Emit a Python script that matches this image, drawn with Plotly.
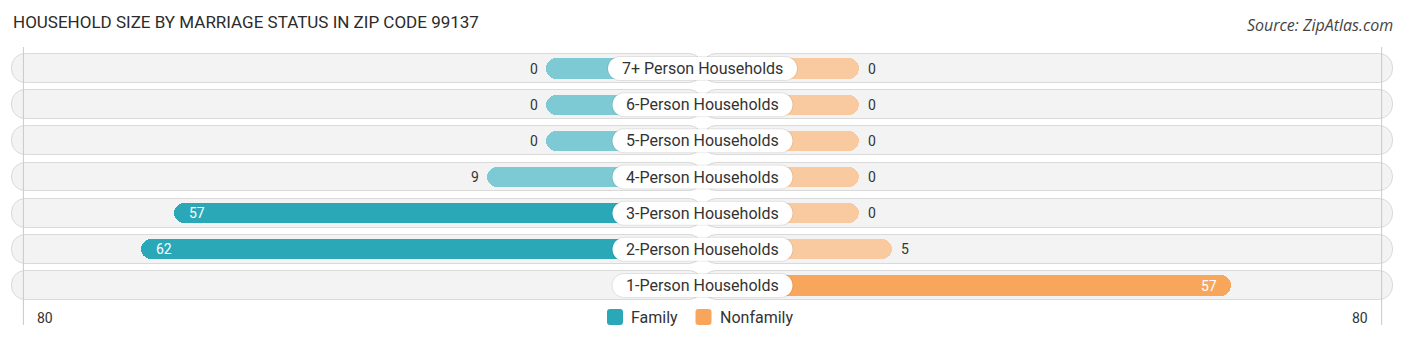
import plotly.graph_objects as go

# ---- data ----
categories = ["7+ Person Households", "6-Person Households", "5-Person Households",
              "4-Person Households", "3-Person Households", "2-Person Households",
              "1-Person Households"]
family = [0, 0, 0, 9, 57, 62, None]     # None: no family value shown for 1-person
nonfamily = [0, 0, 0, 0, 0, 5, 57]
axis_max_label = 80

# ---- layout constants ----
W, H = 1406, 341
PX_PER_UNIT = 6.53
CENTER_PX = 702.5
OFFSET = 24.0          # stub under the centre label (data units)
ROW0_PX = 68.5
ROW_PX = 36.17
BG_HALF = 105.7

FAM_STRONG, FAM_LIGHT = "#2aa8b8", "#7ecad4"
NON_STRONG, NON_LIGHT = "#f7a65b", "#f9ca9f"
TEXT = "#333333"
FONT = "Roboto"

x_lo = (0 - CENTER_PX) / PX_PER_UNIT
x_hi = (W - CENTER_PX) / PX_PER_UNIT
y_top = (0 - ROW0_PX) / ROW_PX
y_bot = (H - ROW0_PX) / ROW_PX

ys = list(range(len(categories)))

def strong(v):
    return v is not None and v >= 20

fig = go.Figure()

# background pills (two halves so both ends are rounded)
for sign in (-1, 1):
    fig.add_trace(go.Bar(
        y=ys, x=[sign * BG_HALF] * len(ys), base=0, orientation="h",
        width=0.80, marker=dict(color="#f3f3f3", line=dict(color="#dadada", width=1),
                                cornerradius=14),
        hoverinfo="skip", showlegend=False))

# data bars
fam_y = [y for y, v in zip(ys, family) if v is not None]
fam_v = [v for v in family if v is not None]
fig.add_trace(go.Bar(
    y=fam_y, x=[-(OFFSET + v) for v in fam_v], base=0, orientation="h", width=0.56,
    marker=dict(color=[FAM_STRONG if strong(v) else FAM_LIGHT for v in fam_v],
                cornerradius=10, line=dict(width=0)),
    name="Family", showlegend=False,
    customdata=fam_v, hovertemplate="%{customdata}<extra>Family</extra>"))
fig.add_trace(go.Bar(
    y=ys, x=[OFFSET + v for v in nonfamily], base=0, orientation="h", width=0.56,
    marker=dict(color=[NON_STRONG if strong(v) else NON_LIGHT for v in nonfamily],
                cornerradius=10, line=dict(width=0)),
    name="Nonfamily", showlegend=False,
    customdata=nonfamily, hovertemplate="%{customdata}<extra>Nonfamily</extra>"))


def pill_path(w, h):
    r = h / 2.0
    c = 0.5523 * r
    x0, x1 = -w / 2.0, w / 2.0
    y0, y1 = -h / 2.0, h / 2.0
    return (f"M{x0 + r},{y0} L{x1 - r},{y0} "
            f"C{x1 - r + c},{y0} {x1},{-c} {x1},0 "
            f"C{x1},{c} {x1 - r + c},{y1} {x1 - r},{y1} "
            f"L{x0 + r},{y1} "
            f"C{x0 + r - c},{y1} {x0},{c} {x0},0 "
            f"C{x0},{-c} {x0 + r - c},{y0} {x0 + r},{y0} Z")

shapes = []
annotations = []

# gridlines at +/-80
g_y0 = 1 - 47 / H
g_y1 = 1 - 325 / H
for sign in (-1, 1):
    shapes.append(dict(type="line", xref="x", yref="paper",
                       x0=sign * (OFFSET + axis_max_label), x1=sign * (OFFSET + axis_max_label),
                       y0=g_y0, y1=g_y1, line=dict(color="#c9c9c9", width=1), layer="above"))

for i, (cat, fv, nv) in enumerate(zip(categories, family, nonfamily)):
    w = 9 * len(cat) + 9
    # soft shadow
    shapes.append(dict(type="path", xref="x", yref="y", xsizemode="pixel", ysizemode="pixel",
                       xanchor=0, yanchor=i, path=pill_path(w + 2, 25),
                       fillcolor="rgba(0,0,0,0.07)", line=dict(width=0), layer="above"))
    shapes.append(dict(type="path", xref="x", yref="y", xsizemode="pixel", ysizemode="pixel",
                       xanchor=0, yanchor=i, path=pill_path(w, 23),
                       fillcolor="#ffffff", line=dict(width=0), layer="above"))
    annotations.append(dict(x=0, y=i, xref="x", yref="y", text=cat, showarrow=False,
                            font=dict(family=FONT, size=16, color=TEXT),
                            xanchor="center", yanchor="middle"))
    # family value
    if fv is not None:
        if strong(fv):
            annotations.append(dict(x=-(OFFSET + fv), y=i, xref="x", yref="y", text=str(fv),
                                    showarrow=False, xanchor="left", xshift=13,
                                    font=dict(family=FONT, size=14, color="#ffffff")))
        else:
            annotations.append(dict(x=-(OFFSET + fv), y=i, xref="x", yref="y", text=str(fv),
                                    showarrow=False, xanchor="right", xshift=-6,
                                    font=dict(family=FONT, size=14, color=TEXT)))
    # nonfamily value
    if strong(nv):
        annotations.append(dict(x=OFFSET + nv, y=i, xref="x", yref="y", text=str(nv),
                                showarrow=False, xanchor="right", xshift=-12,
                                font=dict(family=FONT, size=14, color="#ffffff")))
    else:
        annotations.append(dict(x=OFFSET + nv, y=i, xref="x", yref="y", text=str(nv),
                                showarrow=False, xanchor="left", xshift=7,
                                font=dict(family=FONT, size=14, color=TEXT)))

# axis end labels
axis_y = 1 - 318 / H
annotations.append(dict(x=-(OFFSET + axis_max_label), y=axis_y, xref="x", yref="paper",
                        text=str(axis_max_label), showarrow=False, xanchor="left", xshift=12,
                        yanchor="middle", font=dict(family=FONT, size=14, color=TEXT)))
annotations.append(dict(x=OFFSET + axis_max_label, y=axis_y, xref="x", yref="paper",
                        text=str(axis_max_label), showarrow=False, xanchor="right", xshift=-12,
                        yanchor="middle", font=dict(family=FONT, size=14, color=TEXT)))

# legend (custom)
leg_y = 1 - 317 / H
for px, color, label in ((615, FAM_STRONG, "Family"), (703.5, NON_STRONG, "Nonfamily")):
    shapes.append(dict(type="path", xref="paper", yref="paper", xsizemode="pixel",
                       ysizemode="pixel", xanchor=px / W, yanchor=leg_y,
                       path="M-8,-5 Q-8,-8 -5,-8 L5,-8 Q8,-8 8,-5 L8,5 Q8,8 5,8 L-5,8 Q-8,8 -8,5 Z",
                       fillcolor=color, line=dict(width=0), layer="above"))
    annotations.append(dict(x=(px + 14) / W, y=leg_y, xref="paper", yref="paper", text=label,
                            showarrow=False, xanchor="left", yanchor="middle",
                            font=dict(family=FONT, size=16, color=TEXT)))

# title & source
annotations.append(dict(x=11 / W, y=1 - 22 / H, xref="paper", yref="paper",
                        text="HOUSEHOLD SIZE BY MARRIAGE STATUS IN ZIP CODE 99137",
                        showarrow=False, xanchor="left", yanchor="middle",
                        font=dict(family="Roboto", size=17, color="#2b2b2b")))
annotations.append(dict(x=1395 / W, y=1 - 25 / H, xref="paper", yref="paper",
                        text="<i>Source: ZipAtlas.com</i>",
                        showarrow=False, xanchor="right", yanchor="middle",
                        font=dict(family="Open Sans", size=16, color="#444444")))

fig.update_layout(
    width=W, height=H, margin=dict(l=0, r=0, t=0, b=0),
    paper_bgcolor="#ffffff", plot_bgcolor="#ffffff",
    barmode="overlay", bargap=0,
    xaxis=dict(range=[x_lo, x_hi], visible=False, fixedrange=True),
    yaxis=dict(range=[y_bot, y_top], visible=False, fixedrange=True),
    shapes=shapes, annotations=annotations, showlegend=False,
)

fig.write_html("out.html")
